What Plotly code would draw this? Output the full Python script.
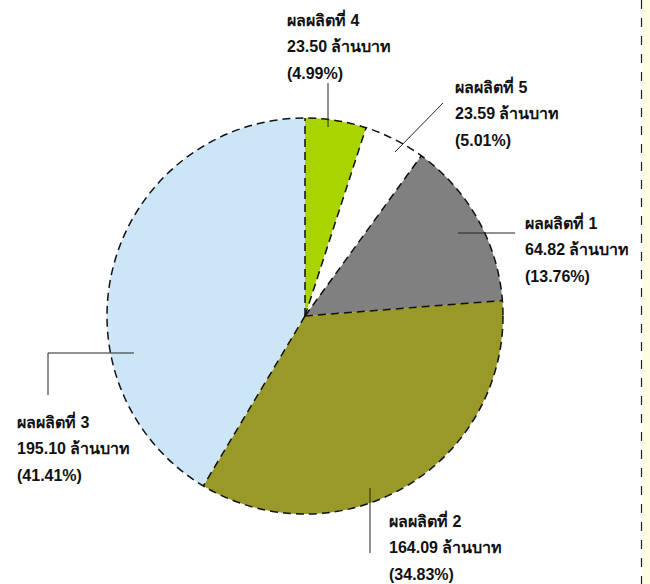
import math
import plotly.graph_objects as go

# ---- data (clockwise order from 12 o'clock) ----
products = ["ผลผลิตที่ 4", "ผลผลิตที่ 5", "ผลผลิตที่ 1", "ผลผลิตที่ 2", "ผลผลิตที่ 3"]
values = [23.50, 23.59, 64.82, 164.09, 195.10]
percents = ["4.99%", "5.01%", "13.76%", "34.83%", "41.41%"]
colors = ["#AAD400", "#FFFFFF", "#808080", "#999929", "#CCE6F7"]

W, H = 650, 584
CX, CY, R = 305, 316, 198  # pie geometry in pixels

fig = go.Figure()

fig.add_trace(go.Pie(
    labels=products, values=values, sort=False, direction="clockwise",
    rotation=0, textinfo="none", hoverinfo="label+value+percent",
    marker=dict(colors=colors, line=dict(width=0)),
    domain=dict(x=[(CX - R) / W, (CX + R) / W],
                y=[(H - CY - R) / H, (H - CY + R) / H]),
    showlegend=False,
))

# invisible trace to create pixel-space axes
fig.add_trace(go.Scatter(x=[0, W], y=[0, H], mode="markers",
                         marker=dict(opacity=0), hoverinfo="skip", showlegend=False))

dash_style = dict(color="#111", width=1.5, dash="8px,5px")

# dashed outline: circle + radial boundaries computed from data
shapes = []
shapes.append(dict(type="circle", xref="x", yref="y", x0=CX - R, x1=CX + R,
                   y0=CY - R, y1=CY + R, line=dash_style, layer="above"))
total = sum(values)
cum = 0.0
for v in values:
    ang = 2 * math.pi * cum / total
    px = CX + R * math.sin(ang)
    py = CY - R * math.cos(ang)
    shapes.append(dict(type="line", xref="x", yref="y", x0=CX, y0=CY, x1=px, y1=py,
                       line=dash_style, layer="above"))
    cum += v

# leader lines (label connectors)
leaders = [
    [(328, 127), (328, 83)],
    [(395, 152), (443, 103)],
    [(458, 233), (515, 233)],
    [(370, 488), (370, 553)],
    [(134, 353), (48, 353), (48, 395)],
]
for pts in leaders:
    path = "M " + " L ".join(f"{x},{y}" for x, y in pts)
    shapes.append(dict(type="path", xref="x", yref="y", path=path,
                       line=dict(color="#222", width=1), layer="above"))

# right-side frame: yellow strip with dashed border
shapes.append(dict(type="rect", xref="x", yref="y", x0=642, x1=W, y0=0, y1=H,
                   fillcolor="#FFFCE3", line=dict(width=0), layer="below"))
shapes.append(dict(type="line", xref="x", yref="y", x0=641.5, x1=641.5, y0=0, y1=H,
                   line=dict(color="#222", width=1.2, dash="9px,9px"), layer="above"))

# label positions (left x, first line centre y)
label_pos = [(285, 19), (453, 86), (523, 222), (387, 520), (15, 421)]
line_gap = 27
annotations = []
for name, val, pct, (lx, ly) in zip(products, values, percents, label_pos):
    lines = [name, f"{val:.2f} ล้านบาท", f"({pct})"]
    for i, t in enumerate(lines):
        annotations.append(dict(x=lx, y=ly + i * line_gap, xref="x", yref="y",
                                text=f"<b>{t}</b>", showarrow=False,
                                xanchor="left", yanchor="middle",
                                font=dict(size=16, color="#111")))

fig.update_layout(
    width=W, height=H,
    margin=dict(l=0, r=0, t=0, b=0),
    paper_bgcolor="white", plot_bgcolor="rgba(0,0,0,0)",
    font=dict(family="Liberation Sans, Arial, sans-serif"),
    xaxis=dict(range=[0, W], visible=False, fixedrange=True, domain=[0, 1]),
    yaxis=dict(range=[H, 0], visible=False, fixedrange=True, domain=[0, 1]),
    shapes=shapes, annotations=annotations,
)

fig.write_html("out.html")
